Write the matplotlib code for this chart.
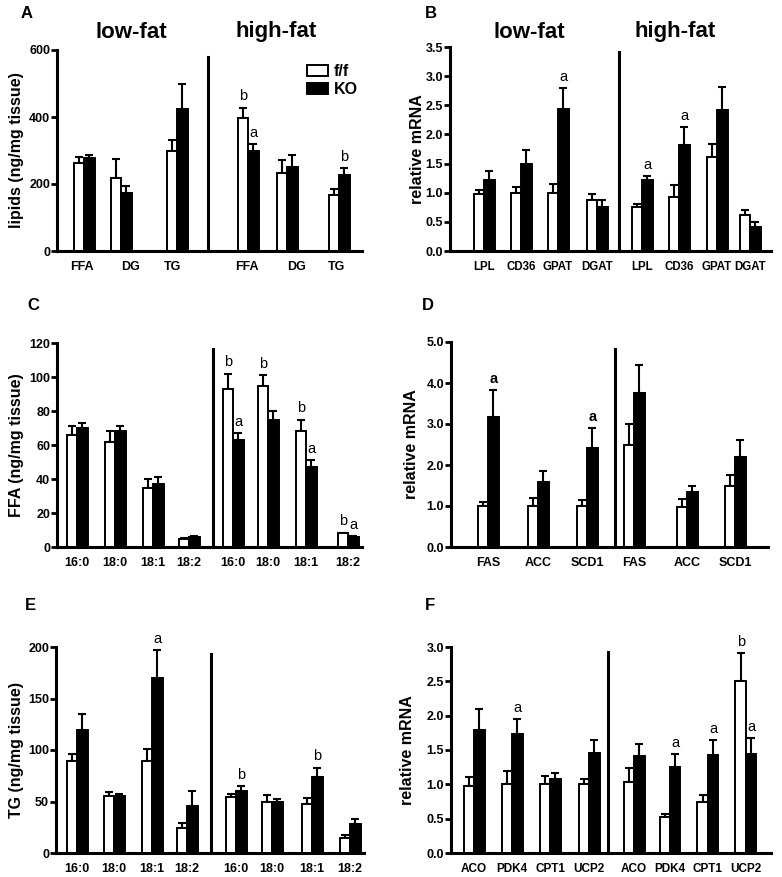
"""Six-panel lipid / mRNA bar figure (f/f vs KO, low-fat vs high-fat)."""
import matplotlib
matplotlib.use("Agg")
import matplotlib.pyplot as plt

plt.rcParams["font.family"] = ["Liberation Sans", "DejaVu Sans"]

W, H = 782, 877

# ── data ────────────────────────────────────────────────────────────────────
a_labels = ["FFA", "DG", "TG", "FFA", "DG", "TG"]
a_ff = [262, 218, 298, 398, 233, 167]
a_ff_err = [20, 57, 32, 30, 38, 17]
a_ko = [278, 172, 425, 300, 250, 228]
a_ko_err = [10, 22, 75, 18, 38, 20]
a_notes = [(3, "ff", "b"), (3, "ko", "a"), (5, "ko", "b")]

b_labels = ["LPL", "CD36", "GPAT", "DGAT", "LPL", "CD36", "GPAT", "DGAT"]
b_ff = [0.98, 1.00, 1.00, 0.88, 0.75, 0.93, 1.61, 0.61]
b_ff_err = [0.06, 0.09, 0.15, 0.10, 0.06, 0.20, 0.22, 0.09]
b_ko = [1.22, 1.50, 2.43, 0.75, 1.21, 1.82, 2.42, 0.41]
b_ko_err = [0.15, 0.23, 0.37, 0.13, 0.07, 0.30, 0.40, 0.08]
b_notes = [(2, "ko", "a"), (4, "ko", "a"), (5, "ko", "a")]

c_labels = ["16:0", "18:0", "18:1", "18:2", "16:0", "18:0", "18:1", "18:2"]
c_ff = [66, 62, 35, 5, 93, 95, 68, 8]
c_ff_err = [5, 6, 5, 0.5, 9, 6, 7, 0.5]
c_ko = [70, 68, 37, 6, 63, 75, 47, 6]
c_ko_err = [3, 3, 4, 0.5, 4, 5, 4, 0.5]
c_notes = [(4, "ff", "b"), (4, "ko", "a"), (5, "ff", "b"), (6, "ff", "b"),
           (6, "ko", "a"), (7, "ff", "b"), (7, "ko", "a")]

d_labels = ["FAS", "ACC", "SCD1", "FAS", "ACC", "SCD1"]
d_ff = [1.00, 1.00, 1.00, 2.50, 0.98, 1.50]
d_ff_err = [0.10, 0.20, 0.15, 0.50, 0.18, 0.25]
d_ko = [3.18, 1.58, 2.42, 3.76, 1.35, 2.20]
d_ko_err = [0.65, 0.27, 0.48, 0.68, 0.13, 0.42]
d_notes = [(0, "ko", "a"), (2, "ko", "a")]

e_labels = ["16:0", "18:0", "18:1", "18:2", "16:0", "18:0", "18:1", "18:2"]
e_ff = [89, 55, 89, 24, 54, 50, 48, 15]
e_ff_err = [7, 4, 12, 5, 3, 6, 5, 2]
e_ko = [119, 55, 170, 46, 60, 50, 74, 28]
e_ko_err = [16, 2, 27, 14, 5, 2, 9, 5]
e_notes = [(2, "ko", "a"), (4, "ko", "b"), (6, "ko", "b")]

f_labels = ["ACO", "PDK4", "CPT1", "UCP2", "ACO", "PDK4", "CPT1", "UCP2"]
f_ff = [0.98, 1.00, 1.00, 1.00, 1.04, 0.53, 0.74, 2.50]
f_ff_err = [0.12, 0.19, 0.12, 0.08, 0.20, 0.04, 0.10, 0.41]
f_ko = [1.79, 1.73, 1.08, 1.45, 1.41, 1.25, 1.42, 1.44]
f_ko_err = [0.30, 0.22, 0.08, 0.20, 0.18, 0.19, 0.22, 0.23]
f_notes = [(1, "ko", "a"), (5, "ko", "a"), (6, "ko", "a"), (7, "ff", "b"), (7, "ko", "a")]

# ── layout (pixels) ─────────────────────────────────────────────────────────
BAR_W = 10.5


def px_rect(left, top, right, bottom):
    return [left / W, 1 - bottom / H, (right - left) / W, (bottom - top) / H]


def panel(fig, rect, centers, labels, ff, ff_err, ko, ko_err, ylim, yticks, fmt,
          ylabel, ylabel_x, div_x, div_top, notes, bold_notes=False,
          label_pos=None, label_size=9):
    left, top, right, bottom = rect
    ax = fig.add_axes(px_rect(*rect))
    ax.set_xlim(0, right - left)
    ax.set_ylim(*ylim)

    xs_ff = [c - BAR_W / 2 for c in centers]
    xs_ko = [c + BAR_W / 2 for c in centers]
    ax.bar(xs_ff, ff, BAR_W, color="white", edgecolor="black", linewidth=1.4, zorder=2)
    ax.bar(xs_ko, ko, BAR_W, color="black", edgecolor="black", linewidth=1.4, zorder=2)
    zeros = [0] * len(ff)
    ax.errorbar(xs_ff, ff, yerr=[zeros, ff_err], fmt="none", ecolor="black",
                elinewidth=1.5, capsize=3, capthick=1.5, zorder=1)
    ax.errorbar(xs_ko, ko, yerr=[zeros, ko_err], fmt="none", ecolor="black",
                elinewidth=1.5, capsize=3, capthick=1.5, zorder=1)

    for gi, series, letter in notes:
        if series == "ff":
            x, y = xs_ff[gi], ff[gi] + ff_err[gi]
        else:
            x, y = xs_ko[gi], ko[gi] + ko_err[gi]
        ax.annotate(letter, (x, y), xytext=(0, 3), textcoords="offset points",
                    ha="center", va="bottom", fontsize=10.5,
                    fontweight="bold" if bold_notes else "normal")

    ax.plot([div_x, div_x], [0, div_top], color="black", lw=2.2, clip_on=False)

    for s in ("top", "right"):
        ax.spines[s].set_visible(False)
    for s in ("left", "bottom"):
        ax.spines[s].set_linewidth(2.2)
    ax.set_yticks(yticks)
    ax.set_yticklabels([fmt.format(t) for t in yticks], fontsize=9, fontweight="bold")
    ax.tick_params(axis="y", length=4, width=2, pad=1)
    ax.set_xticks(label_pos if label_pos is not None else centers)
    ax.set_xticklabels(labels, fontsize=label_size, fontweight="bold")
    ax.tick_params(axis="x", length=0, pad=7)

    fig.text(ylabel_x / W, 1 - (top + bottom) / 2 / H, ylabel, rotation=90,
             ha="center", va="center", fontsize=11.5, fontweight="bold")
    return ax


fig = plt.figure(figsize=(W / 100, H / 100), dpi=100)

ax_a = panel(fig, (57, 50, 362, 251), [27, 64, 120, 191, 230, 282], a_labels,
             a_ff, a_ff_err, a_ko, a_ko_err, (0, 600), [0, 200, 400, 600], "{:.0f}",
             "lipids (ng/mg tissue)", 17, 151, 579, a_notes,
             label_pos=[25, 74, 115, 190, 239, 279])
ax_b = panel(fig, (450, 47, 771, 251), [34, 71, 108, 147, 192, 229, 267, 300], b_labels,
             b_ff, b_ff_err, b_ko, b_ko_err, (0, 3.5),
             [0, 0.5, 1.0, 1.5, 2.0, 2.5, 3.0, 3.5], "{:.1f}",
             "relative mRNA", 418, 169, 3.41, b_notes, label_size=8.3)
ax_c = panel(fig, (57, 343, 362, 547), [20, 58, 96, 132, 176, 211, 249, 291], c_labels,
             c_ff, c_ff_err, c_ko, c_ko_err, (0, 120), [0, 20, 40, 60, 80, 100, 120], "{:.0f}",
             "FFA (ng/mg tissue)", 17, 156, 116.5, c_notes)
ax_d = panel(fig, (451, 342, 768, 547), [37, 87, 136, 183, 236, 284], d_labels,
             d_ff, d_ff_err, d_ko, d_ko_err, (0, 5), [0, 1, 2, 3, 4, 5], "{:.1f}",
             "relative mRNA", 411, 164, 4.83, d_notes, bold_notes=True)
ax_e = panel(fig, (56, 647, 364, 853), [21, 58, 96, 131, 180, 216, 256, 294], e_labels,
             e_ff, e_ff_err, e_ko, e_ko_err, (0, 200), [0, 50, 100, 150, 200], "{:.0f}",
             "TG (ng/mg tissue)", 17, 155, 193, e_notes)
ax_f = panel(fig, (451, 647, 771, 853), [23, 61, 99, 138, 183, 219, 257, 295], f_labels,
             f_ff, f_ff_err, f_ko, f_ko_err, (0, 3.0),
             [0, 0.5, 1.0, 1.5, 2.0, 2.5, 3.0], "{:.1f}",
             "relative mRNA", 408, 157, 2.93, f_notes, label_size=8.5)

# diet headers
for x, txt in [(131, "low-fat"), (276, "high-fat"), (529, "low-fat"), (675, "high-fat")]:
    fig.text(x / W, 1 - 32 / H, txt, ha="center", va="center",
             fontsize=16, fontweight="bold")

# panel letters
for x, y, txt in [(27, 13, "A"), (431, 13, "B"), (33, 305, "C"),
                  (428, 305, "D"), (30, 605, "E"), (430, 605, "F")]:
    fig.text(x / W, 1 - y / H, txt, ha="center", va="center",
             fontsize=12, fontweight="bold")

# legend in panel A
handles = ax_a.containers[:2]
leg = ax_a.legend(handles, ["f/f", "KO"], loc="upper left", frameon=False,
                  bbox_to_anchor=((307 - 57) / 305, 1 - (64 - 50) / 201),
                  fontsize=11.5, handlelength=1.3, handleheight=0.75,
                  handletextpad=0.4, labelspacing=0.2, borderpad=0, borderaxespad=0)
for t in leg.get_texts():
    t.set_fontweight("bold")

fig.savefig("out.png", dpi=100)
